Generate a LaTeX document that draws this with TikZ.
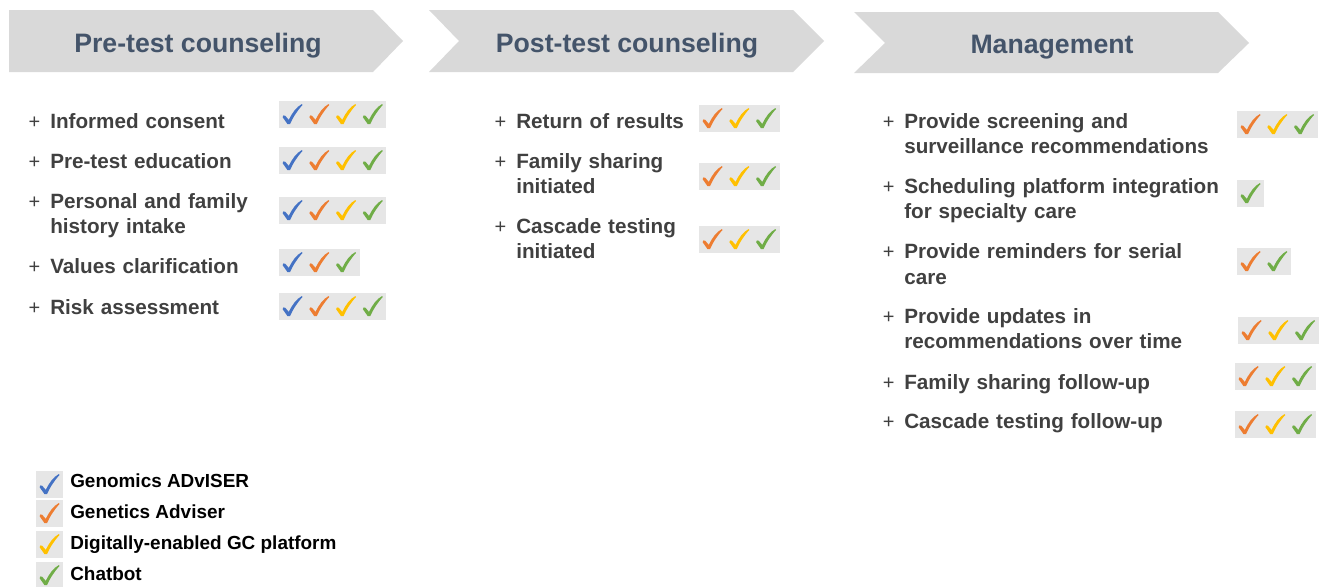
\documentclass[tikz,border=0pt]{standalone}
\usepackage{fontspec}
\setmainfont{Liberation Sans}
\definecolor{chevfill}{HTML}{D9D9D9}
\definecolor{hdrtext}{HTML}{44546A}
\definecolor{itemtext}{HTML}{404040}
\definecolor{boxgrey}{HTML}{E6E6E6}
\definecolor{ckblue}{HTML}{4472C4}
\definecolor{ckorange}{HTML}{ED7D31}
\definecolor{ckyellow}{HTML}{FFC000}
\definecolor{ckgreen}{HTML}{70AD47}

\tikzset{
  chevron/.style={fill=chevfill, draw=none},
  hdr/.style={font=\fontsize{20}{24}\selectfont\bfseries, text=hdrtext, inner sep=0, anchor=base},
  item/.style={font=\fontsize{15.5}{18.75}\selectfont\bfseries, text=itemtext, inner sep=0,
               anchor=base west, text width=300pt, align=left},
  plus/.style={font=\fontsize{15}{18}\selectfont, text=itemtext, inner sep=0, anchor=base},
  legtext/.style={font=\fontsize{14.2}{17}\selectfont\bfseries, text=black, inner sep=0, anchor=base west},
  ckbox/.style={fill=boxgrey, draw=none, inner sep=0, minimum height=20.25pt, anchor=north west},
  pics/ck/.style={code={
    \fill[#1] (-9.8,2.6) .. controls (-9,0.6) .. (-7.2,1.2) -- (-3.6,5.4)
      .. controls (0,-2) and (4,-7.5) .. (9.4,-10.4) -- (10.2,-9.6)
      .. controls (5,-4) and (0.5,3) .. (-2.4,9.6) -- (-4.9,9.6) -- cycle;
  }}
}

% #1 box name, #2 left x, #3 top y, #4 number of marks, #5 mark colours
\newcommand\markrow[5]{%
  \node[ckbox, minimum width={26.75*#4*0.75pt}] (#1) at (#2,#3) {};
  \foreach \cc [count=\ii] in {#5}
    \pic at ({#2+26.75*\ii-13.375},{#3+13.5}) {ck=\cc};
}

\begin{document}
\begin{tikzpicture}[x=0.75pt,y=-0.75pt]
\useasboundingbox (0,0) rectangle (1320,586);

% stage chevrons
\fill[chevron] (9,10) -- (373,10) -- (403,41) -- (373,72) -- (9,72) -- cycle;
\fill[chevron] (429,10) -- (793,10) -- (824,41) -- (793,72) -- (429,72) -- (459,41) -- cycle;
\fill[chevron] (854,12) -- (1218,12) -- (1249,43) -- (1218,73) -- (854,73) -- (885,43) -- cycle;

\node[hdr] (h1) at (198,52) {Pre-test counseling};
\node[hdr] (h2) at (627,52) {Post-test counseling};
\node[hdr] (h3) at (1052,53) {Management};

% pre-test counseling
\node[plus] (pa1) at (34.5,128) {+};
\node[item] (a1) at (50,128) {Informed consent};
\markrow{ma1}{279}{101}{4}{ckblue,ckorange,ckyellow,ckgreen}
\node[plus] (pa2) at (34.5,168) {+};
\node[item] (a2) at (50,168) {Pre-test education};
\markrow{ma2}{279}{147}{4}{ckblue,ckorange,ckyellow,ckgreen}
\node[plus] (pa3) at (34.5,208) {+};
\node[item] (a3) at (50,208) {Personal and family\\history intake};
\markrow{ma3}{279}{197}{4}{ckblue,ckorange,ckyellow,ckgreen}
\node[plus] (pa4) at (34.5,273) {+};
\node[item] (a4) at (50,273) {Values clarification};
\markrow{ma4}{279}{249}{3}{ckblue,ckorange,ckgreen}
\node[plus] (pa5) at (34.5,314) {+};
\node[item] (a5) at (50,314) {Risk assessment};
\markrow{ma5}{279}{293}{4}{ckblue,ckorange,ckyellow,ckgreen}

% post-test counseling
\node[plus] (pb1) at (500.5,128) {+};
\node[item] (b1) at (516,128) {Return of results};
\markrow{mb1}{699}{105}{3}{ckorange,ckyellow,ckgreen}
\node[plus] (pb2) at (500.5,168) {+};
\node[item] (b2) at (516,168) {Family sharing\\initiated};
\markrow{mb2}{699}{163}{3}{ckorange,ckyellow,ckgreen}
\node[plus] (pb3) at (500.5,233) {+};
\node[item] (b3) at (516,233) {Cascade testing\\initiated};
\markrow{mb3}{699}{226}{3}{ckorange,ckyellow,ckgreen}

% management
\node[plus] (pc1) at (888.7,128) {+};
\node[item] (c1) at (904,128) {Provide screening and\\surveillance recommendations};
\markrow{mc1}{1237}{111}{3}{ckorange,ckyellow,ckgreen}
\node[plus] (pc2) at (888.7,193) {+};
\node[item] (c2) at (904,193) {Scheduling platform integration\\for specialty care};
\markrow{mc2}{1237}{180}{1}{ckgreen}
\node[plus] (pc3) at (888.7,258) {+};
\node[item] (c3) at (904,258) {Provide reminders for serial\\[1pt]care};
\markrow{mc3}{1237}{248}{2}{ckorange,ckgreen}
\node[plus] (pc4) at (888.7,323) {+};
\node[item] (c4) at (904,323) {Provide updates in\\recommendations over time};
\markrow{mc4}{1238}{317}{3}{ckorange,ckyellow,ckgreen}
\node[plus] (pc5) at (888.7,389) {+};
\node[item] (c5) at (904,389) {Family sharing follow-up};
\markrow{mc5}{1235}{363}{3}{ckorange,ckyellow,ckgreen}
\node[plus] (pc6) at (888.7,428) {+};
\node[item] (c6) at (904,428) {Cascade testing follow-up};
\markrow{mc6}{1235}{411}{3}{ckorange,ckyellow,ckgreen}

% legend
\markrow{l1}{36}{471}{1}{ckblue}
\node[legtext] (lt1) at (70,487) {Genomics ADvISER};
\markrow{l2}{36}{500}{1}{ckorange}
\node[legtext] (lt2) at (70,518) {Genetics Adviser};
\markrow{l3}{36}{531}{1}{ckyellow}
\node[legtext] (lt3) at (70,549) {Digitally-enabled GC platform};
\markrow{l4}{36}{562}{1}{ckgreen}
\node[legtext] (lt4) at (70,580) {Chatbot};
\end{tikzpicture}
\end{document}
